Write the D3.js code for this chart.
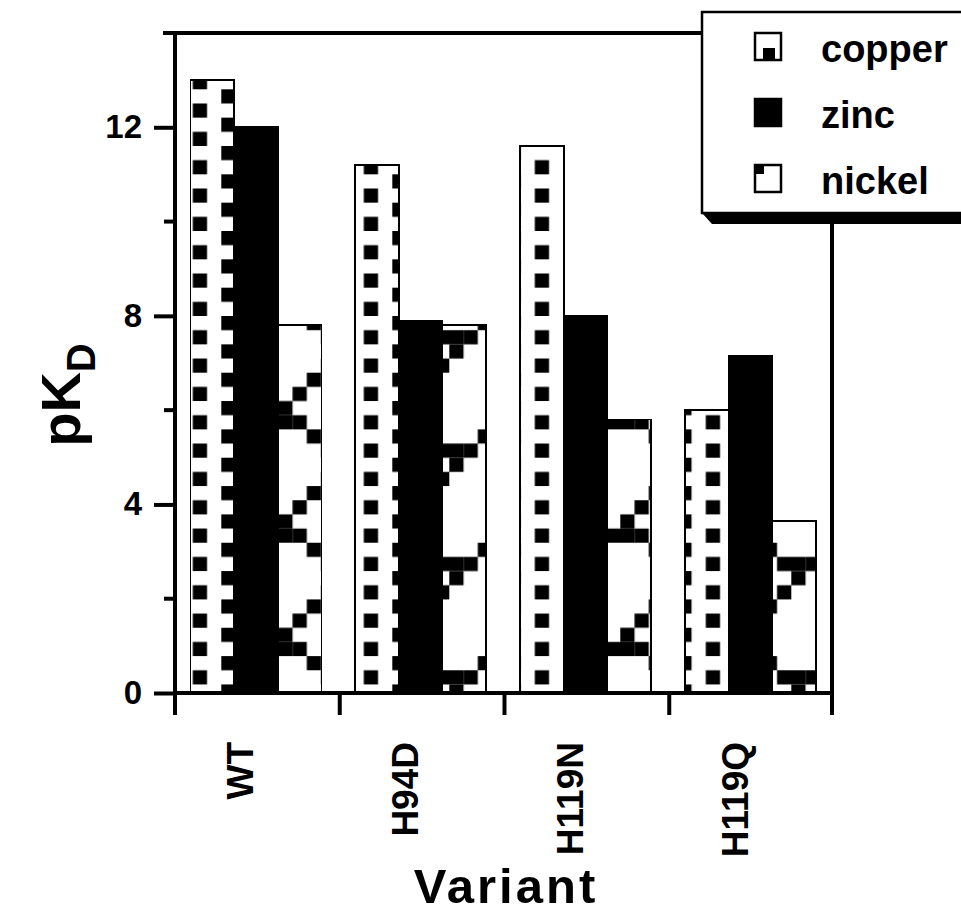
<html>
<head>
<meta charset="utf-8">
<title>pKD by variant</title>
<script src="https://d3js.org/d3.v7.min.js"></script>
<style>
  body { margin: 0; background: #fff; }
  text { font-family: "Liberation Sans", Arial, sans-serif; font-weight: bold; fill: #000; }
</style>
</head>
<body>
<svg width="961" height="914"></svg>
<script>
// data
var variants = ["WT", "H94D", "H119N", "H119Q"];
var metals = ["copper", "zinc", "nickel"];
var copper = [13.0, 11.2, 11.6, 6.0];
var zinc = [12.0, 7.9, 8.0, 7.15];
var nickel = [7.8, 7.8, 5.8, 3.65];
var majorTicks = [0, 4, 8, 12];
var minorTicks = [2, 6, 10, 14];

var series = {copper: copper, zinc: zinc, nickel: nickel};
var rows = variants.map((v, i) => ({variant: v, values: metals.map(m => ({metal: m, value: series[m][i]}))}));

var svg = d3.select("svg"),
    margin = {top: 33, left: 175},
    width = 659,
    height = 660,
    g = svg.append("g").attr("transform", `translate(${margin.left},${margin.top})`);

var y = d3.scaleLinear().domain([0, 14]).range([height, 0]);
var x0 = d3.scaleBand().domain(variants).range([0, width]);
var x1 = d3.scaleBand().domain(metals).range([15.5, 146.5]);

// fill patterns, anchored to the page like the original (one copy per group)
var cw = 14.25, ch = 14.17, px = 103.3, py = 339.7;
var cells = {
  copper: {cols: 4, rows: 2, on: [[0, 0], [2, 1]]},
  nickel: {cols: 8, rows: 8, on: [[2,0],[1,1],[0,2],[0,3],[1,3],[7,3],[2,4],[6,4],[3,5],[4,5],[5,5],[4,6],[3,7]]}
};
var defs = svg.append("defs");
variants.forEach(function(v) {
  ["copper", "nickel"].forEach(function(m) {
    var c = cells[m];
    var p = defs.append("pattern")
        .attr("id", `pat-${m}-${v}`)
        .attr("patternUnits", "userSpaceOnUse")
        .attr("x", px - x0(v)).attr("y", py)
        .attr("width", c.cols * cw).attr("height", c.rows * ch);
    p.append("rect").attr("width", c.cols * cw).attr("height", c.rows * ch).attr("fill", "#fff");
    p.selectAll("rect.c").data(c.on).enter().append("rect")
        .attr("class", "c")
        .attr("x", d => d[0] * cw).attr("y", d => d[1] * ch)
        .attr("width", cw).attr("height", ch)
        .attr("fill", "#000");
  });
});

// bars
var group = g.selectAll(".group")
    .data(rows)
    .enter()
    .append("g")
      .attr("class", "group")
      .attr("transform", d => `translate(${x0(d.variant)},0)`);
group.selectAll("rect")
    .data(d => d.values.map(v => Object.assign({variant: d.variant}, v)))
    .enter()
    .append("rect")
      .attr("x", d => x1(d.metal))
      .attr("y", d => y(d.value))
      .attr("width", x1.bandwidth())
      .attr("height", d => height - y(d.value))
      .attr("fill", d => d.metal === "zinc" ? "#000" : `url(#pat-${d.metal}-${d.variant})`)
      .attr("stroke", "#000")
      .attr("stroke-width", 1.8)
      .attr("shape-rendering", "crispEdges");

// frame (top and right)
g.append("line").attr("x1", -12).attr("x2", width - 2).attr("y1", 0).attr("y2", 0)
  .attr("stroke", "#000").attr("stroke-width", 4);
g.append("line").attr("x1", width - 2).attr("x2", width - 2).attr("y1", 0).attr("y2", height)
  .attr("stroke", "#000").attr("stroke-width", 4);

// y axis
var yAxis = g.append("g")
  .call(d3.axisLeft(y).tickValues(majorTicks).tickSize(21).tickPadding(12).tickFormat(d3.format("d")));
yAxis.append("g").selectAll("line").data(minorTicks).enter().append("line")
  .attr("x1", -11).attr("x2", 0).attr("y1", d => y(d)).attr("y2", d => y(d));
yAxis.selectAll("line").attr("stroke", "#000").attr("stroke-width", 4);
yAxis.select(".domain").attr("stroke-width", 4).attr("d", `M0,${height + 2}V0`);
yAxis.selectAll("text").style("font-size", "33px").attr("font-family", null).attr("fill", "#000");

// x axis: ticks at band boundaries
var xAxis = g.append("g").attr("transform", `translate(0,${height})`);
xAxis.append("line").attr("x1", -2).attr("x2", width).attr("stroke", "#000").attr("stroke-width", 4);
xAxis.selectAll(".tk").data(variants.concat(["end"])).enter().append("line")
  .attr("class", "tk")
  .attr("x1", d => d === "end" ? width - 2 : x0(d)).attr("x2", d => d === "end" ? width - 2 : x0(d))
  .attr("y1", 0).attr("y2", 22)
  .attr("stroke", "#000").attr("stroke-width", 4);
xAxis.selectAll(".lbl").data(variants).enter().append("text")
  .attr("class", "lbl")
  .attr("transform", d => `translate(${x0(d) + x0.bandwidth() / 2 - 4},49) rotate(-90)`)
  .attr("text-anchor", "end")
  .style("font-size", "37px")
  .text(d => d);

// axis titles
svg.append("text")
  .attr("transform", "translate(80,395) rotate(-90)")
  .attr("text-anchor", "middle")
  .style("font-size", "56px")
  .call(t => {
    t.append("tspan").text("pK");
    t.append("tspan").attr("dy", 15).style("font-size", "40px").text("D");
  });
svg.append("text")
  .attr("x", 506).attr("y", 903)
  .attr("text-anchor", "middle")
  .style("font-size", "49px")
  .style("letter-spacing", "3px")
  .text("Variant");

// legend box with drop shadow
var legend = svg.append("g").attr("transform", "translate(702,12)");
legend.append("path")
  .attr("d", "M0,201 L10,212 L270,212 L270,201 Z")
  .attr("fill", "#000");
legend.append("rect")
  .attr("width", 270).attr("height", 201)
  .attr("fill", "#fff").attr("stroke", "#000").attr("stroke-width", 2.5);
var item = legend.selectAll(".item").data(metals).enter().append("g")
  .attr("class", "item")
  .attr("transform", (d, i) => `translate(0,${21 + i * 66})`);
item.append("rect")
  .attr("x", 53).attr("width", 26).attr("height", 27)
  .attr("fill", d => d === "zinc" ? "#000" : "#fff")
  .attr("stroke", "#000").attr("stroke-width", 2.5);
item.filter(d => d === "copper").append("rect")
  .attr("x", 61).attr("y", 15).attr("width", 12).attr("height", 12).attr("fill", "#000");
item.filter(d => d === "nickel").append("rect")
  .attr("x", 54).attr("y", 1).attr("width", 8).attr("height", 8).attr("fill", "#000");
item.append("text")
  .attr("x", 119).attr("y", 29)
  .style("font-size", "38px")
  .text(d => d);
</script>
</body>
</html>
